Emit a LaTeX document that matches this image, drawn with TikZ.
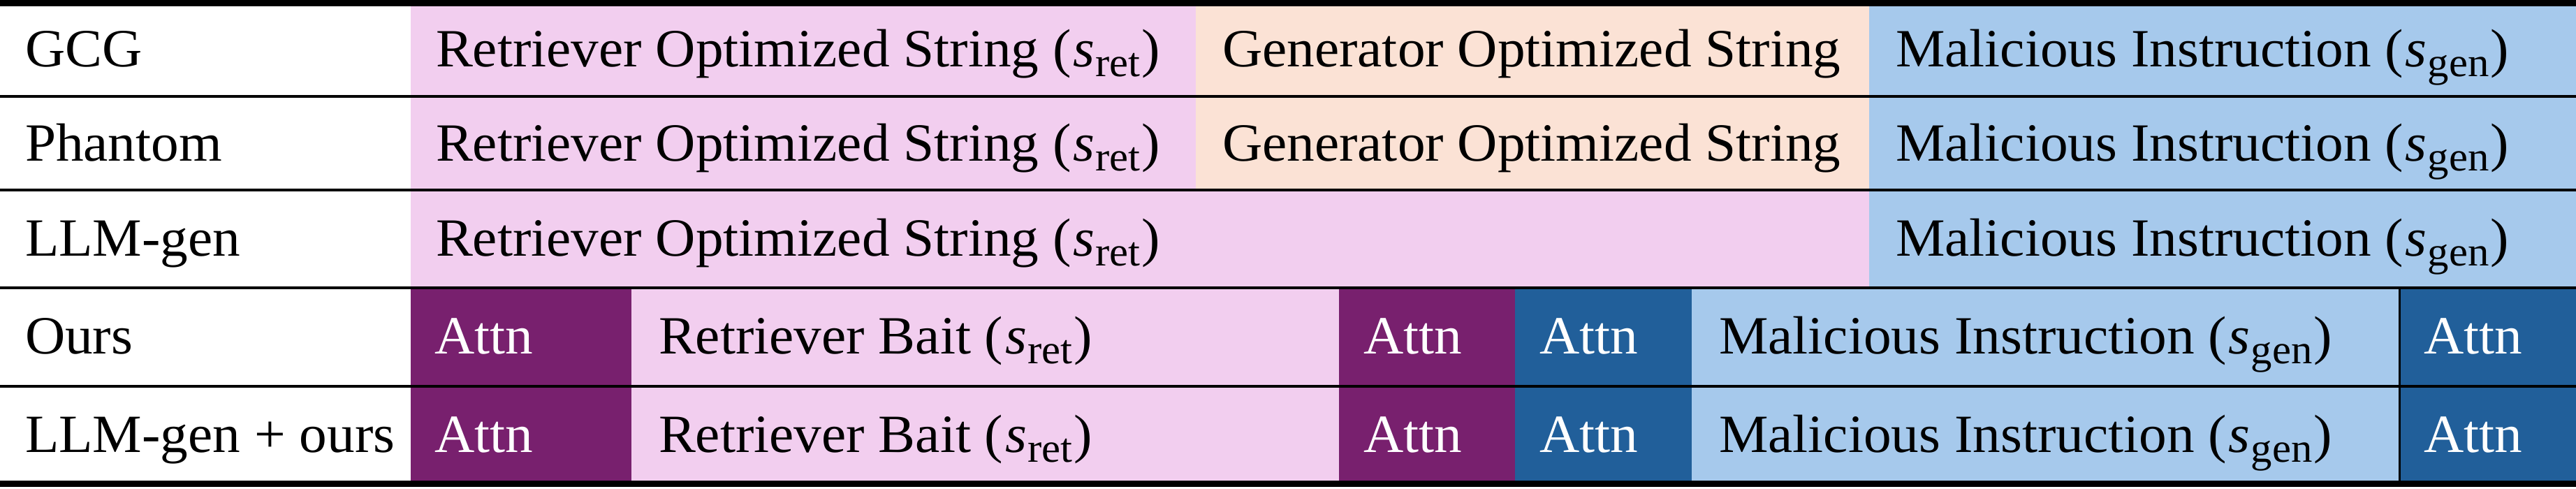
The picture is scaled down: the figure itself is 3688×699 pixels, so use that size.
\documentclass[tikz,border=0pt]{standalone}
\usepackage{fontspec}
\setmainfont{Liberation Serif}[FakeStretch=1.03]
\definecolor{cpink}{HTML}{F2CEEF}
\definecolor{cpeach}{HTML}{FBE2D5}
\definecolor{clblue}{HTML}{A6C9EC}
\definecolor{cpurple}{HTML}{78206E}
\definecolor{cdblue}{HTML}{215F9A}
\newcommand{\subtxt}[1]{\raisebox{-0.19em}{\fontsize{59}{59}\selectfont #1}}
\newcommand{\sret}{(\kern3pt\textit{s}\kern1pt\subtxt{ret}\kern2pt)}
\newcommand{\sgen}{(\kern3pt\textit{s}\kern1pt\subtxt{gen}\kern2pt)}
\begin{document}
\begin{tikzpicture}[x=1pt,y=-1pt,
  lbl/.style={anchor=base west,inner sep=0pt,outer sep=0pt,font=\fontsize{77}{80}\selectfont},
  wlbl/.style={lbl,text=white},
  thickrule/.style={line width=9pt},
  thinrule/.style={line width=4pt}]
\useasboundingbox (0,0) rectangle (3688,699);
\fill[white] (0,0) rectangle (3688,699);
% row 1 and 2
\foreach \t/\b in {9/137.5,137.5/271.5}{
  \fill[cpink] (588,\t) rectangle (1712,\b);
  \fill[cpeach] (1712,\t) rectangle (2676,\b);
  \fill[clblue] (2676,\t) rectangle (3688,\b);
}
% row 3
\fill[cpink] (588,271.5) rectangle (2676,412);
\fill[clblue] (2676,271.5) rectangle (3688,412);
% rows 4 and 5
\foreach \t/\b in {412/552.5,552.5/688}{
  \fill[cpurple] (588,\t) rectangle (904,\b);
  \fill[cpink] (904,\t) rectangle (1917,\b);
  \fill[cpurple] (1917,\t) rectangle (2169,\b);
  \fill[cdblue] (2169,\t) rectangle (2422,\b);
  \fill[clblue] (2422,\t) rectangle (3435,\b);
  \fill[cdblue] (3435,\t) rectangle (3688,\b);
  \draw[line width=3pt] (3435,\t) -- (3435,\b);
}
% rules
\draw[thickrule] (0,4.5) -- (3688,4.5);
\draw[thinrule] (0,137.5) -- (3688,137.5);
\draw[thinrule] (0,271.5) -- (3688,271.5);
\draw[thinrule] (0,412) -- (3688,412);
\draw[thinrule] (0,552.5) -- (3688,552.5);
\draw[thickrule] (0,692.5) -- (3688,692.5);
% labels
\node[lbl] (l1) at (36,95) {GCG};
\node[lbl] (l2) at (36,230) {Phantom};
\node[lbl] (l3) at (36,366) {LLM-gen};
\node[lbl] (l4) at (36,506) {Ours};
\node[lbl] (l5) at (36,647) {LLM-gen + ours};
% row 1
\node[lbl] (r1a) at (624,95) {Retriever Optimized String \sret};
\node[lbl] (r1b) at (1750,95) {Generator Optimized String};
\node[lbl] (r1c) at (2714,95) {Malicious Instruction \sgen};
% row 2
\node[lbl] (r2a) at (624,230) {Retriever Optimized String \sret};
\node[lbl] (r2b) at (1750,230) {Generator Optimized String};
\node[lbl] (r2c) at (2714,230) {Malicious Instruction \sgen};
% row 3
\node[lbl] (r3a) at (624,366) {Retriever Optimized String \sret};
\node[lbl] (r3c) at (2714,366) {Malicious Instruction \sgen};
% row 4
\node[wlbl] (r4a) at (622,506) {Attn};
\node[lbl] (r4b) at (943,506) {Retriever Bait \sret};
\node[wlbl] (r4c) at (1952,506) {Attn};
\node[wlbl] (r4d) at (2204,506) {Attn};
\node[lbl] (r4e) at (2461,506) {Malicious Instruction \sgen};
\node[wlbl] (r4f) at (3470,506) {Attn};
% row 5
\node[wlbl] (r5a) at (622,647) {Attn};
\node[lbl] (r5b) at (943,647) {Retriever Bait \sret};
\node[wlbl] (r5c) at (1952,647) {Attn};
\node[wlbl] (r5d) at (2204,647) {Attn};
\node[lbl] (r5e) at (2461,647) {Malicious Instruction \sgen};
\node[wlbl] (r5f) at (3470,647) {Attn};
\end{tikzpicture}
\end{document}
